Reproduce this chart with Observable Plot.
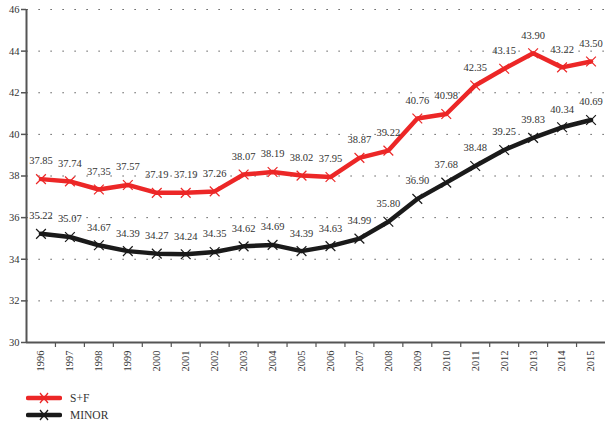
<!DOCTYPE html>
<html>
<head>
<meta charset="utf-8">
<script src="https://cdn.jsdelivr.net/npm/d3@7"></script>
<script src="https://cdn.jsdelivr.net/npm/@observablehq/plot@0.6"></script>
<style>
  body { margin: 0; background: #fff; font-family: 'Liberation Serif', 'DejaVu Serif', serif; }
  #legend { margin-left: 26px; margin-top: 4px; font-size: 11.5px; color: #333; font-family: 'Liberation Serif', serif; }
  .item { display: flex; align-items: center; height: 17px; }
  .item svg { margin-right: 8px; }
  svg text { font-family: 'Liberation Serif', 'DejaVu Serif', serif; }
</style>
</head>
<body>
<div id="chart"></div>
<div id="legend"></div>
<script>
const years = [1996,1997,1998,1999,2000,2001,2002,2003,2004,2005,2006,2007,2008,2009,2010,2011,2012,2013,2014,2015];
const sf = [37.85,37.74,37.35,37.57,37.19,37.19,37.26,38.07,38.19,38.02,37.95,38.87,39.22,40.76,40.98,42.35,43.15,43.90,43.22,43.50];
const minor = [35.22,35.07,34.67,34.39,34.27,34.24,34.35,34.62,34.69,34.39,34.63,34.99,35.80,36.90,37.68,38.48,39.25,39.83,40.34,40.69];
const yTicks = [30,32,34,36,38,40,42,44,46];
const gridTicks = [32,34,36,38,40,42,44,46];
const series = [
  {name: "S+F", values: sf, color: "#ec2727"},
  {name: "MINOR", values: minor, color: "#1a1a1a"}
];
const boundaries = years.slice(0, -1).map(y => y + 0.5);
const FONT = "'Liberation Serif', 'DejaVu Serif', serif";

const rows = series.flatMap(s => years.map((yr, i) => ({year: yr, value: s.values[i], name: s.name, color: s.color})));

const chart = Plot.plot({
  width: 605,
  height: 385,
  marginLeft: 26,
  marginRight: 0,
  marginTop: 9,
  marginBottom: 43,
  style: {fontFamily: FONT, fontSize: "10px", color: "#333", background: "#fff"},
  x: {type: "linear", domain: [1995.5, 2015.5]},
  y: {domain: [30, 46]},
  marks: [
    Plot.ruleY(gridTicks, {stroke: "#333", strokeWidth: 1, strokeDasharray: "1.2,10.8", strokeDashoffset: -0.5}),
    Plot.axisY(yTicks, {tickSize: 5, tickPadding: 2, stroke: "#555", strokeWidth: 1.5, fontSize: 10.5, fill: "#333", fontFamily: FONT, label: null}),
    Plot.axisX(boundaries, {tickSize: 5, tickFormat: () => "", stroke: "#555", strokeWidth: 1.2, label: null}),
    Plot.axisX(years, {tickSize: 0, tickPadding: 8, tickRotate: -90, tickFormat: d => String(d), fontSize: 10.5, fill: "#333", fontFamily: FONT, label: null}),
    Plot.ruleX([1995.5], {stroke: "#555", strokeWidth: 2}),
    Plot.ruleY([30], {stroke: "#555", strokeWidth: 2}),
    ...series.map(s => Plot.line(rows.filter(r => r.name === s.name), {x: "year", y: "value", stroke: s.color, strokeWidth: 4.5})),
    ...series.map(s => Plot.dot(rows.filter(r => r.name === s.name), {x: "year", y: "value", symbol: "times", r: 4.5, stroke: s.color, strokeWidth: 1.2})),
    Plot.text(rows, {x: "year", y: "value", text: d => d.value.toFixed(2), dy: -18, fontSize: 10.5, fill: "#333", fontFamily: FONT})
  ]
});
document.getElementById("chart").appendChild(chart);

const legend = document.getElementById("legend");
for (const s of series) {
  const item = document.createElement("div");
  item.className = "item";
  item.innerHTML = `<svg width="36" height="14"><line x1="2" y1="7" x2="34" y2="7" stroke="${s.color}" stroke-width="4.5" stroke-linecap="round"/><path d="M14,2 L22,12 M22,2 L14,12" stroke="${s.color}" stroke-width="1.3"/></svg><span>${s.name}</span>`;
  legend.appendChild(item);
}
</script>
</body>
</html>
